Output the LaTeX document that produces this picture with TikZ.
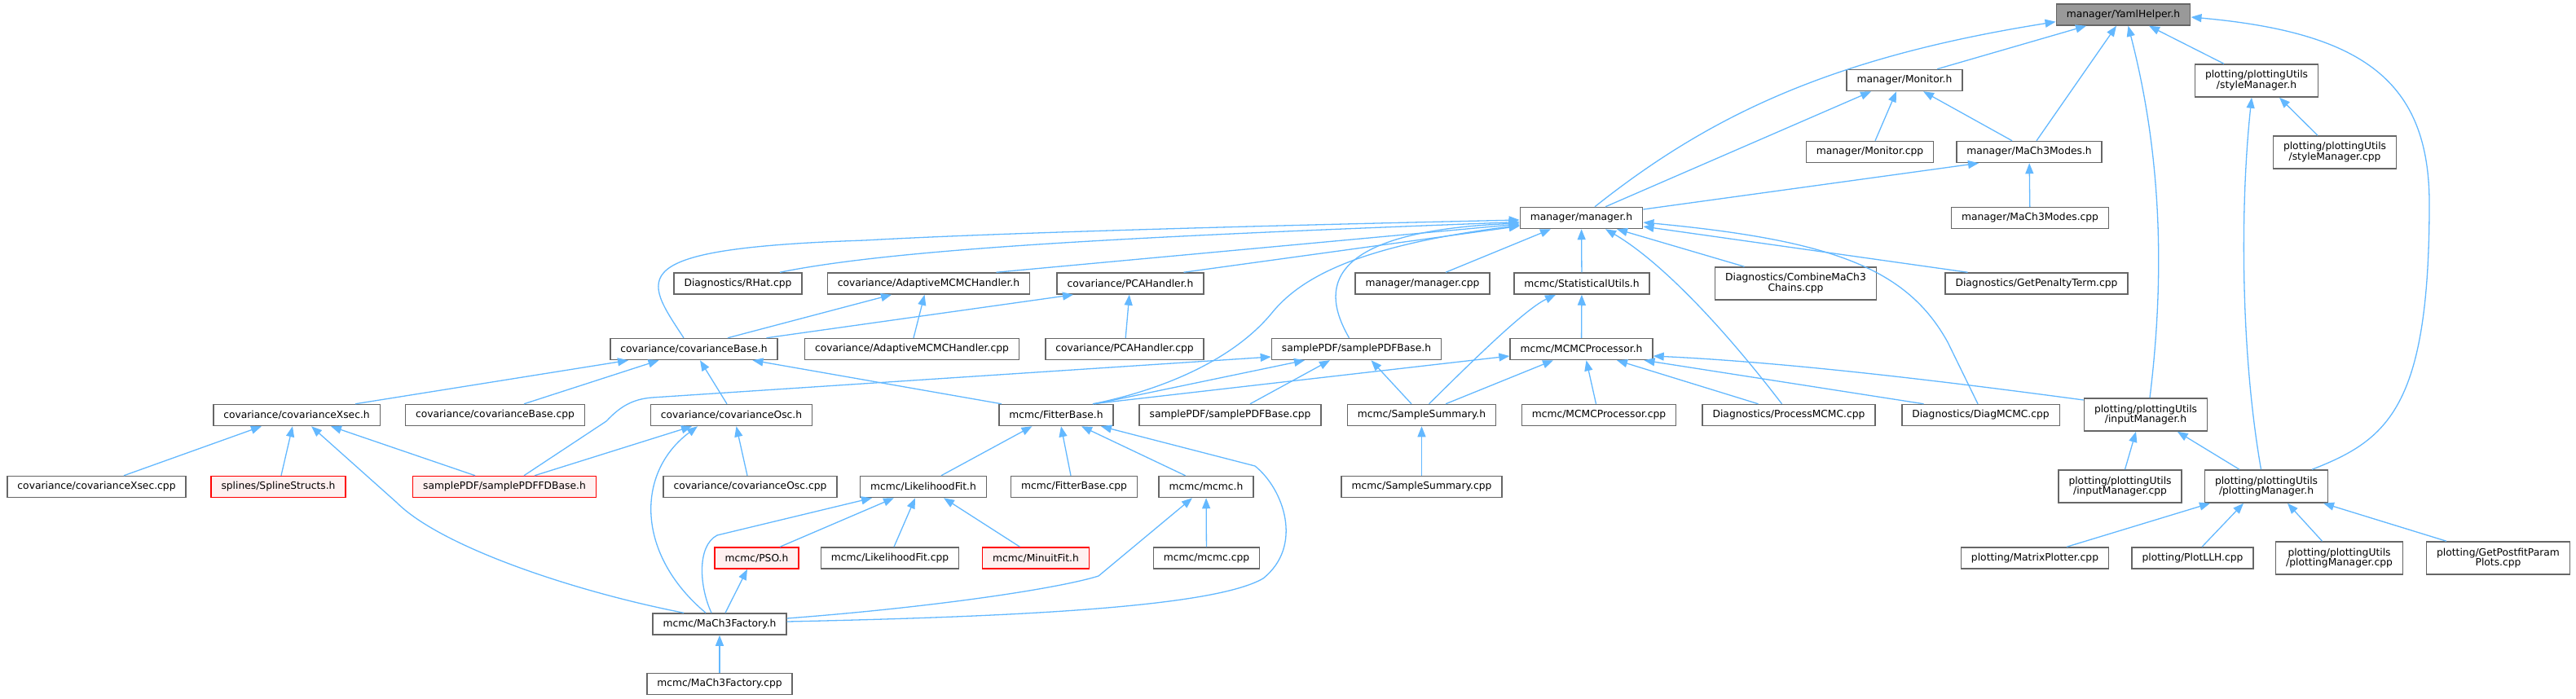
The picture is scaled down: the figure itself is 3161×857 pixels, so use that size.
\documentclass[tikz,border=0pt]{standalone}
\usepackage{fontspec}
\setmainfont{DejaVu Sans}
\usetikzlibrary{arrows.meta}
\definecolor{edgeblue}{HTML}{63B8FF}
\definecolor{boxgray}{HTML}{666666}
\definecolor{rootgray}{HTML}{999999}
\definecolor{truncfill}{HTML}{FFF0F0}
\begin{document}
\begin{tikzpicture}[
    x=1pt,y=1pt,
    box/.style={draw=boxgray,fill=white,line width=1.5pt,inner xsep=12.5pt,inner ysep=0pt,
        minimum height=26pt,align=center,font=\fontsize{12.3}{12.8}\selectfont},
    twoline/.style={box,minimum height=40pt},
    rootbox/.style={box,fill=rootgray},
    truncbox/.style={box,draw=red,fill=truncfill},
    dep/.style={draw=edgeblue,line width=1.3pt,{Triangle[length=13pt,width=10pt]}-}]
\useasboundingbox (0,0) rectangle (3161,-857);
\node[rootbox] (yaml) at (2605.5,-18) {manager/YamlHelper.h};
\node[box] (monh) at (2337,-98.5) {manager/Monitor.h};
\node[twoline] (styleh) at (2769,-99) {plotting/plottingUtils\\/styleManager.h};
\node[box] (moncpp) at (2294.5,-186.5) {manager/Monitor.cpp};
\node[box] (modesh) at (2490,-186.5) {manager/MaCh3Modes.h};
\node[twoline] (stylecpp) at (2865,-187) {plotting/plottingUtils\\/styleManager.cpp};
\node[box] (manh) at (1940.5,-267.5) {manager/manager.h};
\node[box] (modescpp) at (2491,-267.5) {manager/MaCh3Modes.cpp};
\node[box] (rhat) at (905.5,-348) {Diagnostics/RHat.cpp};
\node[box] (adapth) at (1139.5,-348) {covariance/AdaptiveMCMCHandler.h};
\node[box] (pcah) at (1387,-348) {covariance/PCAHandler.h};
\node[box] (mancpp) at (1745.5,-348) {manager/manager.cpp};
\node[box] (statu) at (1941,-348) {mcmc/StatisticalUtils.h};
\node[twoline] (combine) at (2203.5,-348) {Diagnostics/CombineMaCh3\\Chains.cpp};
\node[box] (penalty) at (2499,-348) {Diagnostics/GetPenaltyTerm.cpp};
\node[box] (covbaseh) at (851.5,-428.5) {covariance/covarianceBase.h};
\node[box] (adaptcpp) at (1119,-428.5) {covariance/AdaptiveMCMCHandler.cpp};
\node[box] (pcacpp) at (1380,-428.5) {covariance/PCAHandler.cpp};
\node[box] (spbaseh) at (1664.5,-428.5) {samplePDF/samplePDFBase.h};
\node[box] (mcmcproch) at (1940.5,-428.5) {mcmc/MCMCProcessor.h};
\node[box] (xsech) at (364,-509.5) {covariance/covarianceXsec.h};
\node[box] (covbasecpp) at (607.5,-509.5) {covariance/covarianceBase.cpp};
\node[box] (osch) at (897.5,-509.5) {covariance/covarianceOsc.h};
\node[box] (fitterh) at (1296,-509.5) {mcmc/FitterBase.h};
\node[box] (spbasecpp) at (1509.5,-509.5) {samplePDF/samplePDFBase.cpp};
\node[box] (ssumh) at (1744.5,-509.5) {mcmc/SampleSummary.h};
\node[box] (mcmcproccpp) at (1962,-509.5) {mcmc/MCMCProcessor.cpp};
\node[box] (processcpp) at (2195,-509.5) {Diagnostics/ProcessMCMC.cpp};
\node[box] (diagcpp) at (2430.5,-509.5) {Diagnostics/DiagMCMC.cpp};
\node[twoline] (inputh) at (2633,-509) {plotting/plottingUtils\\/inputManager.h};
\node[box] (xseccpp) at (118.5,-597.5) {covariance/covarianceXsec.cpp};
\node[truncbox] (splines) at (341.5,-597.5) {splines/SplineStructs.h};
\node[truncbox] (fdbaseh) at (619,-597.5) {samplePDF/samplePDFFDBase.h};
\node[box] (osccpp) at (920.5,-597.5) {covariance/covarianceOsc.cpp};
\node[box] (likeh) at (1133,-597.5) {mcmc/LikelihoodFit.h};
\node[box] (fittercpp) at (1318,-597.5) {mcmc/FitterBase.cpp};
\node[box] (mcmch) at (1480,-597.5) {mcmc/mcmc.h};
\node[box] (ssumcpp) at (1744.5,-597.5) {mcmc/SampleSummary.cpp};
\node[twoline] (inputcpp) at (2601.5,-597) {plotting/plottingUtils\\/inputManager.cpp};
\node[twoline] (plotmgrh) at (2781,-597) {plotting/plottingUtils\\/plottingManager.h};
\node[truncbox] (pso) at (928.5,-685) {mcmc/PSO.h};
\node[box] (likecpp) at (1092,-685) {mcmc/LikelihoodFit.cpp};
\node[truncbox] (minuit) at (1271,-685) {mcmc/MinuitFit.h};
\node[box] (mcmccpp) at (1480.5,-685) {mcmc/mcmc.cpp};
\node[box] (matrixcpp) at (2497,-685) {plotting/MatrixPlotter.cpp};
\node[box] (plotllh) at (2690.5,-685) {plotting/PlotLLH.cpp};
\node[twoline] (plotmgrcpp) at (2870.5,-685) {plotting/plottingUtils\\/plottingManager.cpp};
\node[twoline] (postfit) at (3065.5,-685) {plotting/GetPostfitParam\\Plots.cpp};
\node[box] (factoryh) at (883,-766) {mcmc/MaCh3Factory.h};
\node[box] (factorycpp) at (883,-839.5) {mcmc/MaCh3Factory.cpp};
\draw[dep] ([yshift=-8.7pt]yaml.west) .. controls (2250,-70) and (2100,-140) .. ([xshift=16.5pt]manh.north);
\draw[dep] ([xshift=-45.5pt]yaml.south) -- ([xshift=40pt]monh.north);
\draw[dep] ([xshift=-8.5pt]yaml.south) -- ([xshift=9pt]modesh.north);
\draw[dep] ([xshift=6pt]yaml.south) .. controls (2655,-200) and (2655,-350) .. ([xshift=5pt]inputh.north);
\draw[dep] ([xshift=31.5pt]yaml.south) -- ([xshift=-40pt]styleh.north);
\draw[dep] ([yshift=-3pt]yaml.east) .. controls (2900,-40) and (2981,-100) .. (2981,-250)
    .. controls (2981,-500) and (2930,-540) .. ([xshift=56pt]plotmgrh.north);
\draw[dep] ([xshift=-41pt]monh.south) -- ([xshift=29.5pt]manh.north);
\draw[dep] ([xshift=-10pt]monh.south) -- ([xshift=6.5pt]moncpp.north);
\draw[dep] ([xshift=23pt]monh.south) -- ([xshift=-21pt]modesh.north);
\draw[dep] ([xshift=-62pt]modesh.south) -- ([yshift=10.5pt]manh.east);
\draw[dep] (modesh) -- (modescpp);
\draw[dep] ([xshift=-6pt]styleh.south) .. controls (2749,-250) and (2749,-430) .. ([xshift=-6.5pt]plotmgrh.north);
\draw[dep] ([xshift=28pt]styleh.south) -- ([xshift=-21pt]stylecpp.north);
\draw[dep] ([yshift=-2.5pt]manh.west) .. controls (1500,-278) and (1200,-287) .. (1061,-295)
    .. controls (760,-305) and (790,-340) .. ([xshift=-12.5pt]covbaseh.north);
\draw[dep] ([yshift=-5pt]manh.west) .. controls (1400,-290) and (1100,-305) .. ([xshift=51.5pt]rhat.north);
\draw[dep] ([yshift=-7.5pt]manh.west) -- ([xshift=83pt]adapth.north);
\draw[dep] ([yshift=-10pt]manh.west) -- ([xshift=65.5pt]pcah.north);
\draw[dep] ([yshift=-9pt]manh.west) .. controls (1680,-300) and (1600,-335) .. (1560,-385)
    .. controls (1510,-445) and (1420,-480) .. ([xshift=45pt]fitterh.north);
\draw[dep] ([yshift=-6.5pt]manh.west) .. controls (1600,-285) and (1630,-370) .. ([xshift=-9pt]spbaseh.north);
\draw[dep] ([xshift=-37.5pt]manh.south) -- ([xshift=28.5pt]mancpp.north);
\draw[dep] (manh) -- (statu);
\draw[dep] ([xshift=29.5pt]manh.south) .. controls (2020,-310) and (2090,-370) .. ([xshift=-8.5pt]processcpp.north);
\draw[dep] ([xshift=43.5pt]manh.south) -- ([xshift=-63pt]combine.north);
\draw[dep] ([yshift=-5.5pt]manh.east) .. controls (2250,-295) and (2340,-330) .. (2390,-420)
    -- ([xshift=-3.5pt]diagcpp.north);
\draw[dep] ([yshift=-10.5pt]manh.east) -- ([xshift=-84.5pt]penalty.north);
\draw[dep] ([xshift=-32pt]statu.south) .. controls (1870,-380) and (1800,-450) .. ([xshift=9pt]ssumh.north);
\draw[dep] (statu) -- (mcmcproch);
\draw[dep] ([xshift=-45.5pt]adapth.south) -- ([xshift=41.5pt]covbaseh.north);
\draw[dep] ([xshift=-5pt]adapth.south) -- ([xshift=2pt]adaptcpp.north);
\draw[dep] ([xshift=-70pt]pcah.south) -- ([xshift=89pt]covbaseh.north);
\draw[dep] (pcah) -- (pcacpp);
\draw[dep] ([xshift=-80.5pt]covbaseh.south) -- ([xshift=72pt]xsech.north);
\draw[dep] ([xshift=-43pt]covbaseh.south) -- ([xshift=35.5pt]covbasecpp.north);
\draw[dep] ([xshift=7.5pt]covbaseh.south) -- ([xshift=-5.5pt]osch.north);
\draw[dep] ([xshift=72pt]covbaseh.south) -- ([xshift=-67pt]fitterh.north);
\draw[dep] ([yshift=-9.5pt]spbaseh.west) -- (800,-488) .. controls (775,-490) and (760,-500) .. (744,-517)
    -- ([xshift=24pt]fdbaseh.north);
\draw[dep] ([xshift=-63.5pt]spbaseh.south) -- ([xshift=48pt]fitterh.north);
\draw[dep] ([xshift=-32.5pt]spbaseh.south) -- ([xshift=24.5pt]spbasecpp.north);
\draw[dep] ([xshift=18pt]spbaseh.south) -- ([xshift=-12.5pt]ssumh.north);
\draw[dep] ([yshift=-8.5pt]mcmcproch.west) -- ([xshift=45pt]fitterh.north);
\draw[dep] ([xshift=-34.5pt]mcmcproch.south) -- ([xshift=29.5pt]ssumh.north);
\draw[dep] ([xshift=6pt]mcmcproch.south) -- ([xshift=-3.5pt]mcmcproccpp.north);
\draw[dep] ([xshift=43.5pt]mcmcproch.south) -- ([xshift=-37.5pt]processcpp.north);
\draw[dep] ([xshift=77pt]mcmcproch.south) -- ([xshift=-70pt]diagcpp.north);
\draw[dep] ([yshift=-8.5pt]mcmcproch.east) .. controls (2200,-445) and (2400,-470) .. ([yshift=18pt]inputh.west);
\draw[dep] ([xshift=-43pt]xsech.south) -- ([xshift=33.5pt]xseccpp.north);
\draw[dep] ([xshift=-5pt]xsech.south) -- ([xshift=3.5pt]splines.north);
\draw[dep] ([xshift=42pt]xsech.south) -- ([xshift=-36pt]fdbaseh.north);
\draw[dep] ([xshift=18pt]xsech.south) -- (487,-617) .. controls (540,-670) and (700,-725) .. ([xshift=-44pt]factoryh.north);
\draw[dep] ([xshift=-48.5pt]osch.south) -- ([xshift=37pt]fdbaseh.north);
\draw[dep] ([xshift=-41.5pt]osch.south) .. controls (780,-580) and (780,-680) .. ([xshift=-17pt]factoryh.north);
\draw[dep] ([xshift=6pt]osch.south) -- ([xshift=-3.5pt]osccpp.north);
\draw[dep] ([xshift=-29.5pt]fitterh.south) -- ([xshift=22pt]likeh.north);
\draw[dep] ([xshift=6pt]fitterh.south) -- ([xshift=-4pt]fittercpp.north);
\draw[dep] ([xshift=31pt]fitterh.south) -- ([xshift=-25.5pt]mcmch.north);
\draw[dep] ([xshift=55pt]fitterh.south) -- (1540,-572) .. controls (1575,-600) and (1600,-670) .. (1550,-710)
    .. controls (1490,-745) and (1250,-757) .. ([yshift=3pt]factoryh.east);
\draw[dep] ([xshift=-36pt]likeh.south) -- ([xshift=28.5pt]pso.north);
\draw[dep] ([xshift=-63pt]likeh.south) -- (880,-657) .. controls (855,-670) and (858,-720) .. ([xshift=-10pt]factoryh.north);
\draw[dep] ([xshift=-10pt]likeh.south) -- ([xshift=5pt]likecpp.north);
\draw[dep] ([xshift=25pt]likeh.south) -- ([xshift=-19.5pt]minuit.north);
\draw[dep] (mcmch) -- (mcmccpp);
\draw[dep] ([xshift=-17pt]mcmch.south) -- (1348,-707) .. controls (1300,-722) and (1150,-745) .. ([yshift=7pt]factoryh.east);
\draw[dep] ([xshift=-11.5pt]pso.south) -- ([xshift=7pt]factoryh.north);
\draw[dep] (factoryh) -- (factorycpp);
\draw[dep] (ssumh) -- (ssumcpp);
\draw[dep] ([xshift=-12pt]inputh.south) -- ([xshift=6pt]inputcpp.north);
\draw[dep] ([xshift=38.7pt]inputh.south) -- ([xshift=-33pt]plotmgrh.north);
\draw[dep] ([xshift=-69pt]plotmgrh.south) -- ([xshift=39pt]matrixcpp.north);
\draw[dep] ([xshift=-28pt]plotmgrh.south) -- ([xshift=11.5pt]plotllh.north);
\draw[dep] ([xshift=26pt]plotmgrh.south) -- ([xshift=-21pt]plotmgrcpp.north);
\draw[dep] ([xshift=70pt]plotmgrh.south) -- ([xshift=-63.5pt]postfit.north);
\end{tikzpicture}
\end{document}
